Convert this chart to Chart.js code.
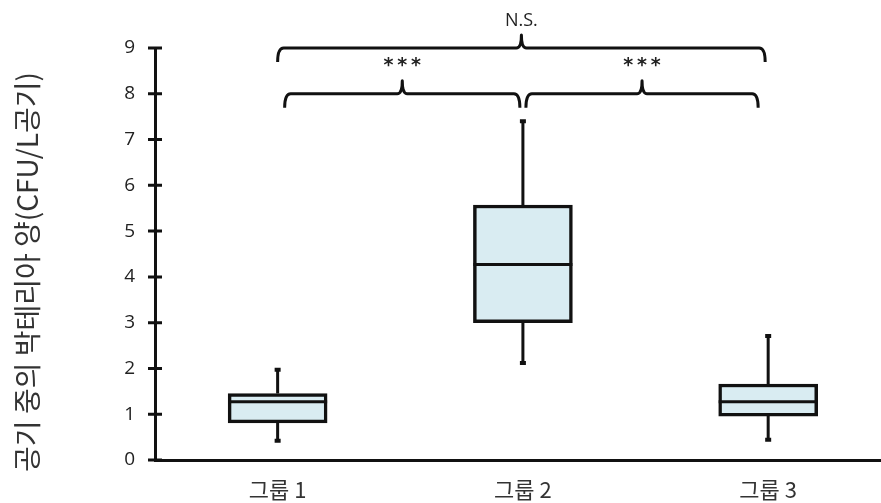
<!DOCTYPE html>
<html>
<head>
<meta charset="utf-8">
<script src="https://cdn.jsdelivr.net/npm/chart.js@4.4.1/dist/chart.umd.min.js"></script>
<style>
    html, body { margin: 0; padding: 0; background: #fff; }
    #wrap { width: 881px; height: 503px; }
</style>
</head>
<body>
<div id="wrap"><canvas id="box-chart" width="881" height="503"></canvas></div>
<script>
// 그룹별 상자그림 값
const groups = ['그룹 1', '그룹 2', '그룹 3'];
const whiskerLow = [0.42, 2.12, 0.44];
const q1 = [0.81, 3.0, 0.96];
const median = [1.27, 4.27, 1.27];
const q3 = [1.45, 5.57, 1.66];
const whiskerHigh = [1.97, 7.40, 2.71];
const yTicks = [0, 1, 2, 3, 4, 5, 6, 7, 8, 9];
const yTitle = '공기 중의 박테리아 양(CFU/L공기)';

// 유의성 표시 (그룹 인덱스, 높이)
const compFrom = [0, 1, 0];
const compTo = [1, 2, 2];
const compLevel = [8, 8, 9];
const compLabel = ['***', '***', 'N.S.'];

const LINE = '#111';
const KR_FONT = "'Noto Sans CJK KR', 'Noto Sans', sans-serif";

// 수염, 중앙값, 눈금, 괄호 그리기
const boxExtras = {
    id: 'boxExtras',
    afterDatasetsDraw(chart) {
        const ctx = chart.ctx;
        const x = chart.scales.x;
        const y = chart.scales.y;
        const meta = chart.getDatasetMeta(0);

        ctx.save();
        ctx.strokeStyle = LINE;
        ctx.lineWidth = 3;
        ctx.lineCap = 'butt';

        groups.forEach((g, i) => {
            const cx = x.getPixelForValue(i + 1);
            const half = meta.data[i].width / 2;

            // 수염
            ctx.beginPath();
            ctx.moveTo(cx, y.getPixelForValue(q3[i]));
            ctx.lineTo(cx, y.getPixelForValue(whiskerHigh[i]));
            ctx.moveTo(cx, y.getPixelForValue(q1[i]));
            ctx.lineTo(cx, y.getPixelForValue(whiskerLow[i]));
            ctx.stroke();

            // 끝 표시
            ctx.lineWidth = 4;
            ctx.beginPath();
            ctx.moveTo(cx - 3, y.getPixelForValue(whiskerHigh[i]));
            ctx.lineTo(cx + 3, y.getPixelForValue(whiskerHigh[i]));
            ctx.moveTo(cx - 3, y.getPixelForValue(whiskerLow[i]));
            ctx.lineTo(cx + 3, y.getPixelForValue(whiskerLow[i]));
            ctx.stroke();

            // 중앙값
            ctx.lineWidth = 3;
            ctx.beginPath();
            ctx.moveTo(cx - half, y.getPixelForValue(median[i]));
            ctx.lineTo(cx + half, y.getPixelForValue(median[i]));
            ctx.stroke();
        });
        ctx.restore();
    },
    afterDraw(chart) {
        const ctx = chart.ctx;
        const x = chart.scales.x;
        const y = chart.scales.y;
        const left = chart.chartArea.left;

        ctx.save();
        ctx.strokeStyle = LINE;
        ctx.lineWidth = 3;

        // y축 눈금 (축을 가로지름)
        ctx.beginPath();
        yTicks.forEach(v => {
            const py = y.getPixelForValue(v);
            ctx.moveTo(left - 7, py);
            ctx.lineTo(left + 7, py);
        });
        ctx.stroke();

        // y축 제목
        ctx.save();
        ctx.translate(27, 272);
        ctx.rotate(-Math.PI / 2);
        ctx.fillStyle = '#333';
        ctx.font = `28px ${KR_FONT}`;
        ctx.textAlign = 'center';
        ctx.textBaseline = 'middle';
        ctx.fillText(yTitle, 0, 0);
        ctx.restore();

        // 괄호
        ctx.lineWidth = 3;
        ctx.lineJoin = 'round';
        ctx.fillStyle = '#222';
        ctx.textAlign = 'center';
        ctx.textBaseline = 'middle';
        compFrom.forEach((f, k) => {
            const wide = compTo[k] - f > 1;
            const inset = wide ? 0 : 7;
            const x1 = x.getPixelForValue(f + 1) + (f === 0 ? inset : 3);
            const x2 = x.getPixelForValue(compTo[k] + 1) - (compTo[k] === 2 ? inset + 3 : 3);
            const yb = y.getPixelForValue(compLevel[k]);
            const xm = (x1 + x2) / 2;
            const drop = 14;
            const rise = 13;

            ctx.beginPath();
            ctx.moveTo(x1, yb + drop);
            ctx.quadraticCurveTo(x1, yb, x1 + 6, yb);
            ctx.lineTo(xm - 5, yb);
            ctx.quadraticCurveTo(xm, yb, xm, yb - rise);
            ctx.quadraticCurveTo(xm, yb, xm + 5, yb);
            ctx.lineTo(x2 - 6, yb);
            ctx.quadraticCurveTo(x2, yb, x2, yb + drop);
            ctx.stroke();

            if (compLabel[k] === 'N.S.') {
                ctx.font = "18px 'Open Sans', sans-serif";
                ctx.fillText(compLabel[k], xm, yb - rise - 14);
            } else {
                ctx.font = "bold 19px 'DejaVu Sans', sans-serif";
                ctx.fillText('*\u2009*\u2009*', xm, yb - rise - 15);
            }
        });
        ctx.restore();
    }
};

new Chart(document.getElementById('box-chart'), {
    type: 'bar',
    data: {
        datasets: [{
            label: '상자',
            data: groups.map((g, i) => ({ x: i + 1, y: [q1[i], q3[i]] })),
            backgroundColor: '#d9ecf2',
            borderColor: LINE,
            borderWidth: 3.5,
            borderSkipped: false,
            barThickness: 99
        }]
    },
    options: {
        responsive: false,
        animation: false,
        layout: { padding: { top: 48, right: 0, bottom: 0, left: 0 } },
        plugins: {
            legend: { display: false },
            tooltip: { enabled: false }
        },
        scales: {
            x: {
                type: 'linear',
                offset: false,
                min: 0.5,
                max: 3.46,
                grid: { display: false, drawTicks: false },
                border: { display: true, color: LINE, width: 3 },
                afterBuildTicks: scale => {
                    scale.ticks = groups.map((g, i) => ({ value: i + 1 }));
                },
                afterFit: scale => { scale.height = 43; },
                ticks: {
                    padding: 16,
                    color: '#333',
                    autoSkip: false,
                    maxRotation: 0,
                    font: { family: KR_FONT, size: 22 },
                    callback: v => groups[v - 1]
                }
            },
            y: {
                min: 0,
                max: 9,
                grid: { display: false, drawTicks: false },
                border: { display: true, color: LINE, width: 3 },
                afterFit: scale => { scale.width = 155; },
                ticks: {
                    stepSize: 1,
                    padding: 20,
                    color: '#222',
                    font: { family: "'Open Sans', sans-serif", size: 19 }
                }
            }
        }
    },
    plugins: [boxExtras]
});
</script>
</body>
</html>
